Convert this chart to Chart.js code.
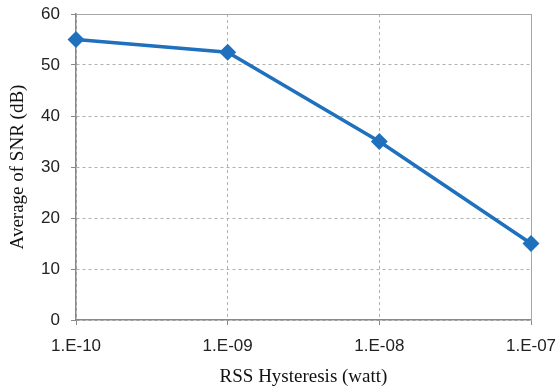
<!DOCTYPE html>
<html><head><meta charset="utf-8">
<script src="https://cdn.jsdelivr.net/npm/chart.js@4"></script>
<style>html,body{margin:0;padding:0;background:#fff;}#wrap{width:559px;height:392px;}</style>
</head><body><div id="wrap"><canvas id="c" width="559" height="392"></canvas></div>
<script>
const categories = ["1.E-10", "1.E-09", "1.E-08", "1.E-07"];
const snrValues = [55, 52.5, 35, 15];
const yTicks = [0, 10, 20, 30, 40, 50, 60];

const frame = {
  id: 'frame',
  beforeDatasetsDraw(chart) {
    const {ctx, chartArea: a} = chart;
    ctx.save();
    ctx.strokeStyle = '#a6a6a6';
    ctx.lineWidth = 1;
    ctx.beginPath();
    ctx.moveTo(a.left, a.top + 0.5);
    ctx.lineTo(a.right + 0.5, a.top + 0.5);
    ctx.lineTo(a.right + 0.5, a.bottom);
    ctx.stroke();
    ctx.restore();
  }
};

new Chart(document.getElementById('c'), {
  type: 'line',
  data: {
    labels: categories,
    datasets: [{
      data: snrValues,
      borderColor: '#1f70bd',
      backgroundColor: '#1f70bd',
      borderWidth: 3.5,
      pointStyle: 'rectRot',
      pointRadius: 6,
      pointHoverRadius: 6,
      tension: 0,
      fill: false
    }]
  },
  options: {
    responsive: false,
    animation: false,
    layout: { padding: { left: 7, right: 28, top: 14, bottom: 4 } },
    plugins: { legend: { display: false }, tooltip: { enabled: false } },
    scales: {
      x: {
        offset: false,
        grid: { color: '#b0b0b0', tickLength: 5, tickColor: '#888' },
        border: { color: '#888', width: 1.5, dash: [3, 3] },
        ticks: { color: '#222', font: { family: 'Liberation Sans, Arial', size: 17 }, padding: 11, maxRotation: 0 },
        title: { display: true, text: 'RSS Hysteresis (watt)', color: '#111', font: { family: 'Liberation Serif, Times New Roman', size: 19 }, padding: { top: 8, bottom: 0 } },
        afterFit(s) { s.height = 68; s.paddingLeft = 0; s.paddingRight = 0; }
      },
      y: {
        min: 0, max: 60,
        afterBuildTicks(s) { s.ticks = yTicks.map(v => ({ value: v })); },
        grid: { color: '#b0b0b0', tickLength: 5, tickColor: '#888' },
        border: { color: '#888', width: 1.5, dash: [3, 3] },
        ticks: { color: '#222', font: { family: 'Liberation Sans, Arial', size: 17 }, padding: 11 },
        title: { display: true, text: 'Average of SNR (dB)', color: '#111', font: { family: 'Liberation Serif, Times New Roman', size: 19 }, padding: { top: 0, bottom: 4 } },
        afterFit(s) { s.width = 69; s.paddingTop = 0; s.paddingBottom = 0; }
      }
    }
  },
  plugins: [frame]
});
</script></body></html>
